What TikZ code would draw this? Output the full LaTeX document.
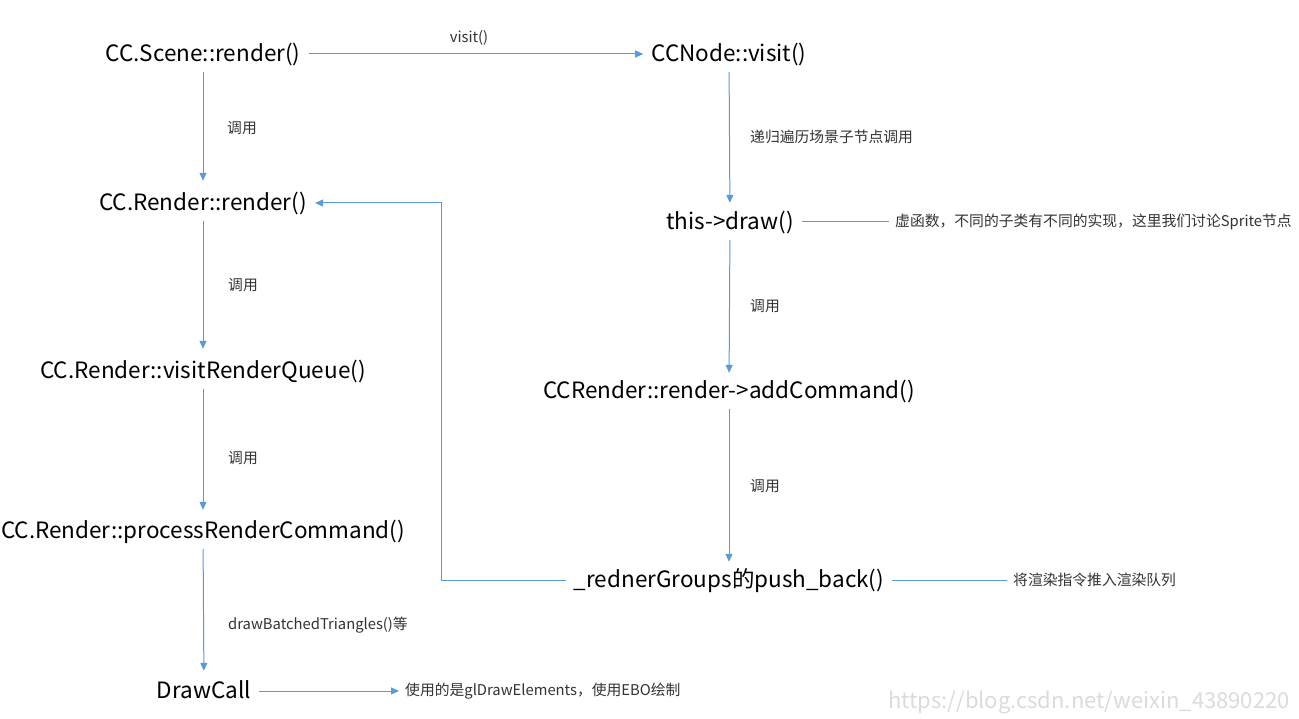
\documentclass[tikz,border=0pt]{standalone}
\usepackage{fontspec}
\setmainfont{Noto Sans CJK SC}
\usetikzlibrary{arrows.meta}
\definecolor{lineblue}{HTML}{5B9BD5}
\definecolor{labelgray}{HTML}{333333}
\tikzset{
  mainbox/.style={inner xsep=8pt, inner ysep=0pt, minimum height=36pt, text height=15pt, text depth=0pt, font=\fontsize{22.5}{26}\selectfont, text=black},
  lbl/.style={inner sep=0pt, font=\fontsize{14.8}{17}\selectfont, text=labelgray},
  note/.style={inner xsep=6pt, inner ysep=0pt, anchor=west, font=\fontsize{14.8}{17}\selectfont, text=labelgray},
  conn/.style={draw=lineblue, line width=1pt},
  arr/.style={conn, -{Triangle[length=8pt,width=7pt]}},
}
\begin{document}
\begin{tikzpicture}[x=1pt, y=-1pt]
\fill[white] (0,0) rectangle (1299,719);
\useasboundingbox (0,0) rectangle (1299,719);

% left column
\node[mainbox] (scene) at (203,54) {CC.Scene::render()};
\node[mainbox] (render) at (203,203) {CC.Render::render()};
\node[mainbox] (vrq) at (203,371) {CC.Render::visitRenderQueue()};
\node[mainbox] (prc) at (203,531) {CC.Render::processRenderCommand()};
\node[mainbox] (dc) at (204,691) {DrawCall};

% right column
\node[mainbox] (visit) at (729,54) {CCNode::visit()};
\node[mainbox] (draw) at (730,222) {this->draw()};
\node[mainbox] (add) at (729,391) {CCRender::render->addCommand()};
\node[mainbox] (push) at (729,580) {\_rednerGroups的push\_back()};

% notes
\node[note] (ndraw) at (889,222) {虚函数，不同的子类有不同的实现，这里我们讨论Sprite节点};
\node[note] (npush) at (1007,580) {将渲染指令推入渲染队列};
\node[note] (ndc) at (399,691) {使用的是glDrawElements，使用EBO绘制};

% edge labels
\node[lbl] (l1) at (242,128) {调用};
\node[lbl] (l2) at (243,285) {调用};
\node[lbl] (l3) at (243,458) {调用};
\node[lbl, anchor=west] (l4) at (228,625) {drawBatchedTriangles()等};
\node[lbl] (l5) at (469,38) {visit()};
\node[lbl, anchor=west] (l6) at (750,137) {递归遍历场景子节点调用};
\node[lbl] (l7) at (765,306) {调用};
\node[lbl] (l8) at (765,486) {调用};

% connectors
\draw[arr, shorten >=4pt] (scene) -- (render);
\draw[arr, shorten >=4pt] (render) -- (vrq);
\draw[arr, shorten >=3pt] (vrq) -- (prc);
\draw[arr, shorten >=2pt] (prc) -- (dc);
\draw[arr, shorten >=0pt] (scene) -- (visit);
\draw[arr, shorten >=1pt] (visit) -- (draw);
\draw[arr] (draw) -- (add);
\draw[arr, shorten >=0pt] (add) -- (push);
\draw[arr] (dc) -- (ndc);
\draw[conn] (draw) -- (ndraw);
\draw[conn] (push) -- (npush);
\coordinate (fb) at (441,400);
\draw[arr] (push.west) -- (push.west -| fb) |- (render.east);

% watermark
\node[inner sep=0pt, anchor=east, font=\fontsize{22}{24}\selectfont, text=gray!28] (wm) at (1290,702) {https://blog.csdn.net/weixin\_43890220};
\end{tikzpicture}
\end{document}
